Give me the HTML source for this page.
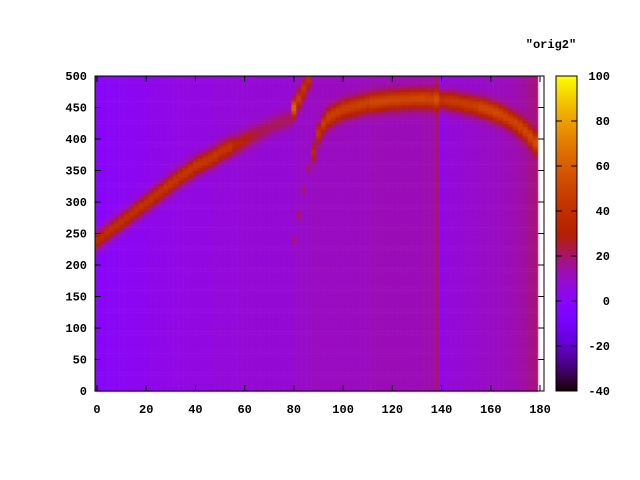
<!DOCTYPE html>
<html><head><meta charset="utf-8">
<style>
body{margin:0;background:#fff;width:640px;height:480px;overflow:hidden;position:relative}
canvas{position:absolute}
svg{position:absolute;left:0;top:0}
text{font-family:"Liberation Mono",monospace;font-weight:bold;font-size:12px;fill:#000}
</style></head><body>
<canvas id="hm" width="640" height="480" style="left:0;top:0"></canvas>
<svg id="ax" width="640" height="480"></svg>
<script>
const xCols=[];for(let i=0;i<90;i++)xCols.push(2*i);
const ridgeY=[240,246,252,258,264,270,276,282,288,294,300,306,312,318,324,330,336,342,347,352,
358,362,366,370,374,380,384,388,392,395,400,404,408,412,416,420,424,427,430,433,
450,465,480,495,
380,410,425,435,440,444,448,450,452,454,
456,458,459,460,461,462,463,463,464,464,
465,465,465,465,464,464,463,462,461,460,
458,456,455,453,451,449,446,443,440,436,
431,426,420,413,405,395];
const ridgeAmp=[38,38,38,38,38,38,38,38,38,38,38,38,38,38,38,38,38,38,38,38,
38,38,38,38,38,36,36,36,26,24,22,20,18,16,15,14,14,14,14,14,
55,36,32,28,
26,32,35,37,37,37,37,37,37,37,
37,37,39,39,39,39,39,39,39,39,
39,39,39,37,37,37,37,37,37,37,
37,37,37,39,42,42,42,42,40,38,
37,37,37,37,36,34];
const bgVal=[0,0,1,1,1,2,2,2,3,3,3,4,4,4,5,5,5,5,6,6,
6,6,6,6,7,7,7,7,7,8,8,8,8,8,8,8,8,8,8,8,
9,10,10,10,
11,11,11,11,11,11,11,11,11,11,11,11,12,12,12,12,12,12,12,12,12,12,13,13,
13,18,
3,7,8,8,8,9,9,9,10,10,10,11,11,12,12,13,14,15,17,19];
const faintY=[null,null,null,null,null,null,null,null,null,null,null,null,null,null,null,null,null,null,null,null,
null,null,null,null,null,null,null,null,null,null,null,null,null,null,null,null,null,null,null,null,
240,280,320,355];
const xTicks=[0,20,40,60,80,100,120,140,160,180];
const yTicks=[0,50,100,150,200,250,300,350,400,450,500];
const cbTicks=[-40,-20,0,20,40,60,80,100];

const L=97,R=540,T=76,B=391,FR=544,FL=95;
const sx=x=>L+(R-L)*x/180, sy=y=>B-(B-T)*y/500;
const CB0=-40,CB1=100, cbY=v=>B-(B-T)*(v-CB0)/(CB1-CB0);
function col(v){let g=Math.min(1,Math.max(0,(v-CB0)/(CB1-CB0)));
 const r=Math.sqrt(g),gg=g*g*g,b=Math.max(0,Math.sin(2*Math.PI*g));
 return `rgb(${Math.round(r*255)},${Math.round(gg*255)},${Math.round(b*255)})`;}
const ctx=document.getElementById('hm').getContext('2d');
for(let i=0;i<xCols.length;i++){
 for(let y=0;y<500;y+=5){
  const yc=y+2.5;
  let v=bgVal[i]+ridgeAmp[i]*Math.exp(-Math.pow((yc-ridgeY[i])/15,2));
  if(faintY[i]!=null)v+=10*Math.exp(-Math.pow((yc-faintY[i])/7,2));
  ctx.fillStyle=col(v);
  const x0=Math.max(FL,sx(xCols[i]-1)),x1=sx(xCols[i]+1);
  ctx.fillRect(x0,sy(y+5),x1-x0+0.6,sy(y)-sy(y+5)+0.6);
 }
}
for(let p=T;p<B;p++){ctx.fillStyle=col(CB0+(CB1-CB0)*(B-p)/(B-T));ctx.fillRect(556,p,21,1);}
const svg=document.getElementById('ax');const NS='http://www.w3.org/2000/svg';
function mk(t,a,txt){const e=document.createElementNS(NS,t);for(const k in a)e.setAttribute(k,a[k]);if(txt!=null)e.textContent=txt;svg.appendChild(e);return e;}
let e=mk('rect',{x:FL,y:T,width:FR-FL,height:B-T,fill:'none',stroke:'#000','stroke-width':1});

e=mk('rect',{x:556,y:T,width:21,height:B-T,fill:'none',stroke:'#000','stroke-width':1});

xTicks.forEach(t=>{const x=sx(t);
 mk('line',{x1:x,y1:B,x2:x,y2:B-6,stroke:'#000'});mk('line',{x1:x,y1:T,x2:x,y2:T+6,stroke:'#000'});
 e=mk('text',{x:x,y:B+22,'text-anchor':'middle'},t);
 });
yTicks.forEach(t=>{const y=sy(t);
 mk('line',{x1:FL,y1:y,x2:FL+6,y2:y,stroke:'#000'});mk('line',{x1:FR,y1:y,x2:FR-6,y2:y,stroke:'#000'});
 e=mk('text',{x:87,y:y+4,'text-anchor':'end'},t);
 });
cbTicks.forEach(t=>{const y=cbY(t);
 mk('line',{x1:577,y1:y,x2:571,y2:y,stroke:'#000'});mk('line',{x1:556,y1:y,x2:562,y2:y,stroke:'#000'});
 e=mk('text',{x:610,y:y+4,'text-anchor':'end'},t);
 });
e=mk('text',{x:551,y:48,'text-anchor':'middle'},'"orig2"');

</script>
</body></html>
